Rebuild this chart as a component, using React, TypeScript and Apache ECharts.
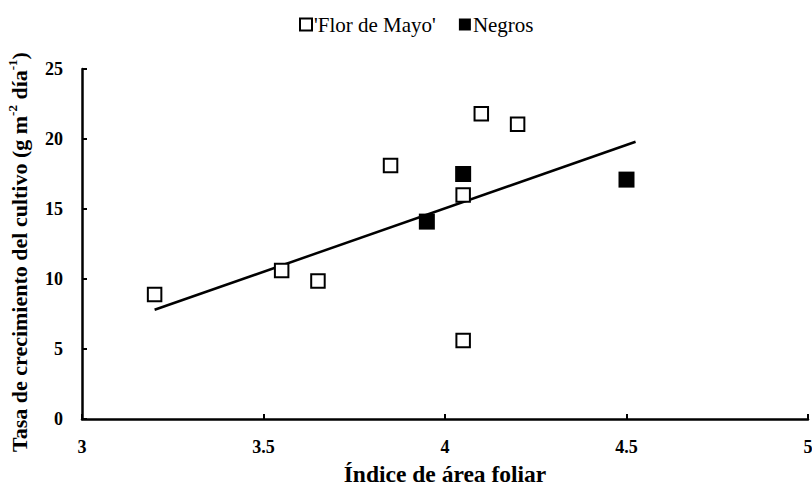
import React, { useEffect, useRef } from "react";
import * as echarts from "echarts";

const florX = [3.2, 3.55, 3.65, 3.85, 4.05, 4.05, 4.1, 4.2];
const florY = [8.9, 10.6, 9.85, 18.1, 16.0, 5.6, 21.8, 21.05];
const negrosX = [3.95, 4.05, 4.5];
const negrosY = [14.1, 17.5, 17.1];
const trendX = [3.2, 4.525];
const trendY = [7.8, 19.8];
const seriesNames = ["'Flor de Mayo'", "Negros"];

const FONT = "Liberation Serif, Times New Roman, serif";

export default function App() {
  const ref = useRef<HTMLDivElement>(null);
  useEffect(() => {
    if (!ref.current) return;
    const chart = echarts.init(ref.current, null, { renderer: "svg" });
    chart.setOption({
      animation: false,
      backgroundColor: "#ffffff",
      textStyle: { fontFamily: FONT },
      legend: {
        top: 9,
        left: 294,
        itemGap: 23,
        itemWidth: 12,
        itemHeight: 12,
        data: [
          { name: seriesNames[0], icon: "rect", itemStyle: { color: "#fff", borderColor: "#000", borderWidth: 2, opacity: 1 } },
          { name: seriesNames[1], icon: "rect", itemStyle: { color: "#000", opacity: 1 } },
        ],
        textStyle: { fontFamily: FONT, fontSize: 21, color: "#000", padding: [0, 0, 0, -3] },
      },
      grid: { left: 82, right: 4, top: 69, bottom: 69, containLabel: false, outerBoundsMode: "none" },
      xAxis: {
        type: "value",
        min: 3,
        max: 5,
        interval: 0.5,
        name: "Índice de área foliar",
        nameLocation: "middle",
        nameGap: 43,
        nameTextStyle: { fontFamily: FONT, fontWeight: "bold", fontSize: 23.5, color: "#000" },
        axisLine: { show: true, lineStyle: { color: "#000", width: 2.5 } },
        axisTick: { show: true, inside: true, length: 5, lineStyle: { color: "#000", width: 2 } },
        axisLabel: { fontFamily: FONT, fontWeight: "bold", fontSize: 18, color: "#000", margin: 19 },
        splitLine: { show: false },
      },
      yAxis: {
        type: "value",
        min: 0,
        max: 25,
        interval: 5,
        name: "Tasa de crecimiento del cultivo (g m{sup|-2} día{sup|-1})",
        nameLocation: "middle",
        nameGap: 50,
        nameTextStyle: {
          fontFamily: FONT,
          fontWeight: "bold",
          fontSize: 22,
          color: "#000",
          padding: [0, 16, 0, 0],
          rich: {
            sup: { fontFamily: FONT, fontWeight: "bold", fontSize: 13, color: "#000", verticalAlign: "top", lineHeight: 26 },
          },
        },
        axisLine: { show: true, lineStyle: { color: "#000", width: 2.5 } },
        axisTick: { show: true, inside: true, length: 5, lineStyle: { color: "#000", width: 2 } },
        axisLabel: { fontFamily: FONT, fontWeight: "bold", fontSize: 18, color: "#000", margin: 19 },
        splitLine: { show: false },
      },
      series: [
        {
          name: "trend",
          type: "line",
          data: trendX.map((x, i) => [x, trendY[i]]),
          showSymbol: false,
          symbol: "none",
          lineStyle: { color: "#000", width: 2.5 },
          z: 1,
        },
        {
          name: seriesNames[0],
          type: "scatter",
          data: florX.map((x, i) => [x, florY[i]]),
          symbol: "rect",
          symbolSize: 13.5,
          itemStyle: { color: "#fff", borderColor: "#000", borderWidth: 2, opacity: 1 },
          z: 3,
        },
        {
          name: seriesNames[1],
          type: "scatter",
          data: negrosX.map((x, i) => [x, negrosY[i]]),
          symbol: "rect",
          symbolSize: 16,
          itemStyle: { color: "#000", opacity: 1 },
          z: 4,
        },
      ],
    });
    return () => chart.dispose();
  }, []);
  return <div ref={ref} style={{ position: "absolute", left: 0, top: 0, width: 812, height: 488 }} />;
}
